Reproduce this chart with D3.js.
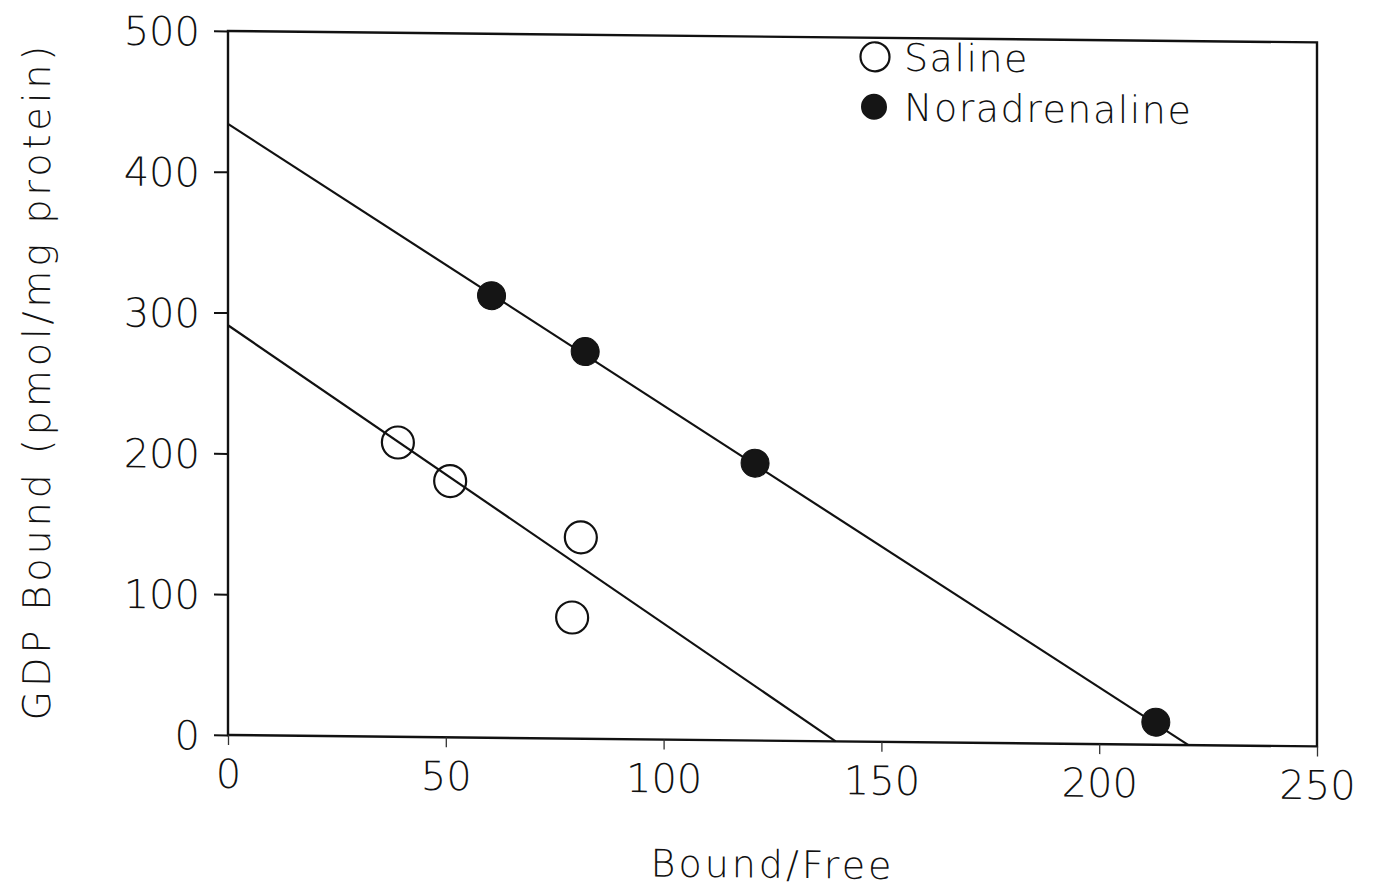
<!DOCTYPE html>
<html>
<head>
<meta charset="utf-8">
<script src="https://cdn.jsdelivr.net/npm/d3@7"></script>
<style>
  body { margin: 0; background: #fff; }
  text { font-family: "DejaVu Sans", sans-serif; font-weight: 200; fill: #111; }
</style>
</head>
<body>
<div id="chart"></div>
<script>
// Scatchard plot, GDP binding
var salineX = [39, 51, 81, 79];
var salineY = [209, 182, 143, 86];
var noraX = [60.5, 82, 121, 213];
var noraY = [314, 275, 197, 16];
// fitted lines: [y-intercept, x-intercept]
var salineFit = [291, 139.5];
var noraFit = [434, 220.5];
var xTicks = [0, 50, 100, 150, 200, 250];
var yTicks = [0, 100, 200, 300, 400, 500];
var seriesNames = ["Saline", "Noradrenaline"];

var width = 1374, height = 893;
var pLeft = 228, pRight = 1317, pTop = 31, pBottom = 735;

var svg = d3.select("#chart").append("svg")
  .attr("width", width)
  .attr("height", height);

var x = d3.scaleLinear().domain([0, 250]).range([pLeft, pRight]);
var y = d3.scaleLinear().domain([0, 500]).range([pBottom, pTop]);

// the scan is a bit skewed
var g = svg.append("g")
  .attr("transform", "translate(" + pLeft + ",0) skewY(0.6) translate(" + (-pLeft) + ",0)");

// frame
g.append("rect")
  .attr("x", pLeft).attr("y", pTop)
  .attr("width", pRight - pLeft).attr("height", pBottom - pTop)
  .attr("fill", "none").attr("stroke", "#111").attr("stroke-width", 2.4);

// x axis
var xAxis = g.append("g")
  .attr("transform", "translate(0," + pBottom + ")")
  .call(d3.axisBottom(x).tickValues(xTicks).tickSize(10).tickPadding(14).tickFormat(d3.format("d")));
xAxis.select(".domain").remove();
xAxis.selectAll("line").attr("stroke", "#333").attr("stroke-width", 1.3);
xAxis.selectAll("text").attr("font-size", 40).attr("fill", "#111").attr("dy", "0.72em");

// y axis
var yAxis = g.append("g")
  .attr("transform", "translate(" + pLeft + ",0)")
  .call(d3.axisLeft(y).tickValues(yTicks).tickSize(14).tickPadding(14).tickFormat(d3.format("d")));
yAxis.select(".domain").remove();
yAxis.selectAll("line").attr("stroke", "#111").attr("stroke-width", 2);
yAxis.selectAll("text").attr("font-size", 40).attr("fill", "#111").attr("dy", "0.36em");

// regression lines
function fitLine(fit) {
  return [[0, fit[0]], [fit[1], 0]];
}
var line = d3.line().x(function(d) { return x(d[0]); }).y(function(d) { return y(d[1]); });
[salineFit, noraFit].forEach(function(f) {
  g.append("path")
    .attr("d", line(fitLine(f)))
    .attr("fill", "none")
    .attr("stroke", "#111")
    .attr("stroke-width", 2.2);
});

// points
g.selectAll(".saline")
  .data(d3.range(salineX.length))
  .enter().append("circle")
  .attr("class", "saline")
  .attr("cx", function(i) { return x(salineX[i]); })
  .attr("cy", function(i) { return y(salineY[i]); })
  .attr("r", 16)
  .attr("fill", "none")
  .attr("stroke", "#111")
  .attr("stroke-width", 2.2);

g.selectAll(".nora")
  .data(d3.range(noraX.length))
  .enter().append("circle")
  .attr("class", "nora")
  .attr("cx", function(i) { return x(noraX[i]); })
  .attr("cy", function(i) { return y(noraY[i]); })
  .attr("r", 14)
  .attr("fill", "#151515")
  .attr("stroke", "#111")
  .attr("stroke-width", 1);

// legend
var lg = g.append("g").attr("transform", "translate(875,50)");
lg.append("circle").attr("cx", 0).attr("cy", 0).attr("r", 14.5)
  .attr("fill", "none").attr("stroke", "#111").attr("stroke-width", 2.2);
lg.append("circle").attr("cx", -1).attr("cy", 50).attr("r", 13)
  .attr("fill", "#151515");
lg.selectAll("text")
  .data(seriesNames)
  .enter().append("text")
  .attr("x", 29)
  .attr("y", function(d, i) { return i * 50; })
  .attr("dy", "0.36em")
  .attr("font-size", 38)
  .attr("letter-spacing", 1.5)
  .text(function(d) { return d; });

// axis titles
g.append("text")
  .attr("x", (pLeft + pRight) / 2)
  .attr("y", 872)
  .attr("text-anchor", "middle")
  .attr("font-size", 38)
  .attr("letter-spacing", 3)
  .text("Bound/Free");

g.append("text")
  .attr("transform", "translate(50," + ((pTop + pBottom) / 2) + ") rotate(-90)")
  .attr("text-anchor", "middle")
  .attr("font-size", 38)
  .attr("letter-spacing", 4)
  .text("GDP Bound (pmol/mg protein)");
</script>
</body>
</html>
